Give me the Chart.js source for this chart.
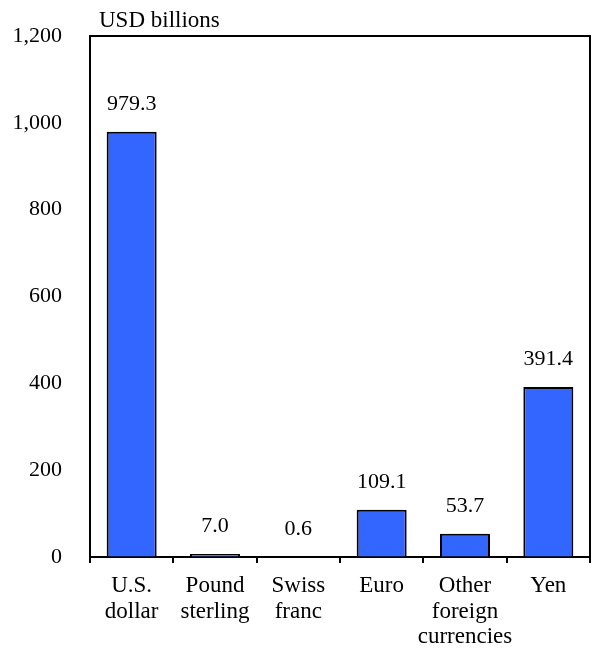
<!DOCTYPE html>
<html>
<head>
<meta charset="utf-8">
<script src="https://cdn.jsdelivr.net/npm/chart.js@4.4.1/dist/chart.umd.min.js"></script>
<style>
html,body{margin:0;padding:0;background:#fff;}
#wrap{width:596px;height:653px;}
</style>
</head>
<body>
<div id="wrap"><canvas id="c" width="596" height="653"></canvas></div>
<script>
const categories = [["U.S.","dollar"],["Pound","sterling"],["Swiss","franc"],["Euro"],["Other","foreign","currencies"],["Yen"]];
const values = [979.3, 7.0, 0.6, 109.1, 53.7, 391.4];
const valueLabels = ["979.3","7.0","0.6","109.1","53.7","391.4"];
const yTicks = [0, 200, 400, 600, 800, 1000, 1200];
const unitLabel = "USD billions";

const FONT = "'Liberation Serif', 'Times New Roman', serif";

const framePlugin = {
  id: 'frame',
  afterDraw(chart) {
    const ctx = chart.ctx, a = chart.chartArea;
    ctx.save();
    ctx.strokeStyle = '#000';
    ctx.lineWidth = 2;
    ctx.beginPath();
    ctx.moveTo(a.left, a.bottom);
    ctx.lineTo(a.left, a.top);
    ctx.lineTo(a.right, a.top);
    ctx.lineTo(a.right, a.bottom);
    ctx.stroke();
    ctx.fillStyle = '#000';
    ctx.font = '23px ' + FONT;
    ctx.textAlign = 'left';
    ctx.textBaseline = 'alphabetic';
    ctx.fillText(unitLabel, a.left + 9, a.top - 9);
    ctx.font = '22px ' + FONT;
    const meta = chart.getDatasetMeta(0);
    ctx.textAlign = 'center';
    meta.data.forEach((bar, i) => {
      ctx.fillText(valueLabels[i], bar.x, bar.y - 22);
    });
    ctx.restore();
  }
};

new Chart(document.getElementById('c'), {
  type: 'bar',
  data: {
    labels: categories,
    datasets: [{
      data: values,
      backgroundColor: '#3366FF',
      borderColor: '#000',
      borderWidth: 2,
      borderSkipped: 'bottom',
      barPercentage: 0.6,
      categoryPercentage: 1.0
    }]
  },
  options: {
    responsive: false,
    animation: false,
    devicePixelRatio: 1,
    layout: { padding: { left: 0, top: 36, right: 6, bottom: 0 } },
    plugins: { legend: { display: false }, tooltip: { enabled: false } },
    scales: {
      x: {
        offset: true,
        grid: { display: true, drawOnChartArea: false, drawTicks: true, tickLength: 6, color: '#000', lineWidth: 2, offset: true },
        border: { display: true, color: '#000', width: 2 },
        ticks: { color: '#000', font: { family: FONT, size: 23, lineHeight: 1.12 }, padding: 10, maxRotation: 0, autoSkip: false },
        afterFit(s) { s.height = 96; }
      },
      y: {
        min: 0, max: 1200,
        afterBuildTicks(s) { s.ticks = yTicks.map(v => ({ value: v })); },
        grid: { display: true, drawOnChartArea: false, drawTicks: true, tickLength: 28, color: 'rgba(0,0,0,0)' },
        border: { display: true, color: '#000', width: 2 },
        ticks: { color: '#000', font: { family: FONT, size: 22 }, padding: 0,
          callback: v => v.toLocaleString('en-US') },
        afterFit(s) { s.width = 90; }
      }
    }
  },
  plugins: [framePlugin]
});
</script>
</body>
</html>
